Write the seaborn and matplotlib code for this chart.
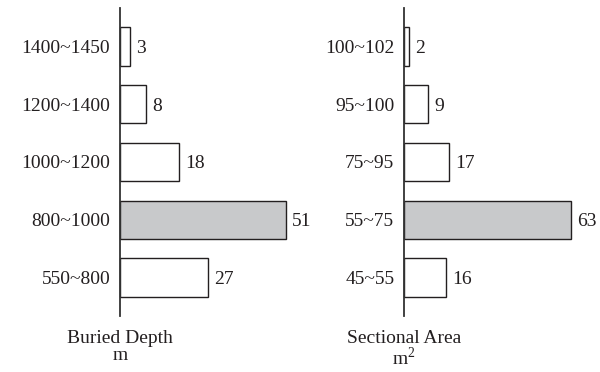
import matplotlib
matplotlib.use("Agg")
import matplotlib.pyplot as plt
import seaborn as sns
import pandas as pd

sns.set_theme(style="white")
plt.rcParams["font.family"] = ["Liberation Serif", "DejaVu Serif"]
plt.rcParams["mathtext.fontset"] = "custom"
plt.rcParams["mathtext.rm"] = "Liberation Serif"

# Buried depth groups (m), listed top to bottom
depth_ranges = ["1400~1450", "1200~1400", "1000~1200", "800~1000", "550~800"]
depth_counts = [3, 8, 18, 51, 27]

# Sectional area groups (m^2), listed top to bottom
area_ranges = ["100~102", "95~100", "75~95", "55~75", "45~55"]
area_counts = [2, 9, 17, 63, 16]

INK = "#231f20"
WHITE = "#ffffff"
GRAY = "#c8c9cb"
FS = 14

fig = plt.figure(figsize=(6.0, 3.72), dpi=100)
W, H = 600.0, 372.0
bottom = (H - 316) / H
height = 308 / H

ax1 = fig.add_axes([120 / W, bottom, 166 / W, height])
ax2 = fig.add_axes([404 / W, bottom, 166.5 / W, height])


def draw_panel(ax, ranges, counts, title):
    df = pd.DataFrame({"range": ranges, "count": counts})
    peak = max(counts)
    colors = [GRAY if c == peak else WHITE for c in counts]
    sns.barplot(data=df, y="range", x="count", hue="range", order=ranges,
                hue_order=ranges, palette=colors, legend=False,
                orient="h", width=0.668, edgecolor=INK, linewidth=1.0,
                saturation=1, ax=ax)
    for p in ax.patches:
        p.set_clip_on(False)
    ax.set_xlim(0, peak)
    ax.set_ylim(len(ranges) - 1 + 0.66, -0.66)
    for s in ["top", "right", "bottom"]:
        ax.spines[s].set_visible(False)
    ax.spines["left"].set_color("#333333")
    ax.spines["left"].set_linewidth(1.3)
    ax.spines["left"].set_zorder(5)
    ax.set_xticks([])
    ax.tick_params(axis="y", length=0, pad=7, labelsize=FS, labelcolor=INK)
    for lbl in ax.get_yticklabels():
        lbl.set_verticalalignment("center_baseline")
    ax.set_xlabel("")
    ax.set_ylabel("")
    for i, c in enumerate(counts):
        ax.annotate(str(c), xy=(c, i), xytext=(4.5, 0), textcoords="offset points",
                    ha="left", va="center_baseline", fontsize=FS, color=INK,
                    annotation_clip=False)
    ax.text(0, -0.045, title, transform=ax.transAxes, ha="center", va="top",
            fontsize=FS, color=INK, linespacing=0.98)


draw_panel(ax1, depth_ranges, depth_counts, "Buried Depth\nm")
draw_panel(ax2, area_ranges, area_counts, "Sectional Area\nm$^2$")

fig.savefig("out.png", dpi=100)
